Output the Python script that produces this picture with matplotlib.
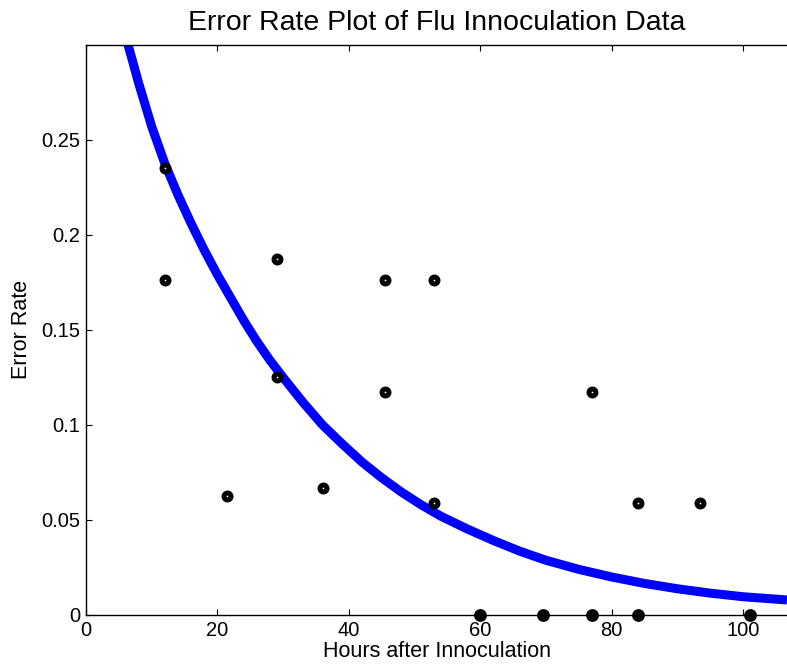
import numpy as np
import matplotlib.pyplot as plt

plt.rcParams['font.family'] = ['Liberation Sans', 'DejaVu Sans']

# observed error rates
hours = [12, 12, 21.5, 29, 29, 36, 45.5, 45.5, 53, 53,
         60, 69.5, 77, 77, 84, 84, 93.5, 101]
rates = [0.2353, 0.1765, 0.0625, 0.1875, 0.125, 0.0667, 0.1765, 0.1176, 0.1765, 0.0588,
         0, 0, 0, 0.1176, 0, 0.0588, 0.0588, 0]

# fitted curve
fit_hours = [6.4, 8, 10, 12, 14, 16, 18, 20, 22, 24, 26, 28, 30, 33, 36, 39, 42, 45, 48, 51,
             54, 58, 62, 66, 70, 75, 80, 85, 90, 95, 100, 106.7]
fit_rates = [0.300, 0.280, 0.257, 0.2375, 0.221, 0.206, 0.192, 0.179, 0.167, 0.155, 0.144,
             0.134, 0.125, 0.112, 0.100, 0.090, 0.0805, 0.0722, 0.0647, 0.058, 0.052, 0.0453,
             0.0392, 0.0336, 0.0288, 0.0240, 0.0200, 0.0166, 0.0138, 0.0115, 0.0096, 0.0079]

xticks = [0, 20, 40, 60, 80, 100]
yticks = [0, 0.05, 0.1, 0.15, 0.2, 0.25]


def main():
    fig = plt.figure(figsize=(7.87, 6.67), dpi=100)
    ax = fig.add_axes([0.1093, 0.078, 0.8907, 0.8547])

    ax.plot(fit_hours, fit_rates, color='#0000ff', lw=6.5, solid_capstyle='butt',
            solid_joinstyle='round', zorder=2)

    h = np.array(hours)
    r = np.array(rates)
    zero = r == 0
    ax.plot(h[~zero], r[~zero], 'o', ms=5.0, mew=3.6, mec='black', mfc='white',
            ls='none', zorder=3)
    ax.plot(h[zero], r[zero], 'o', ms=6.0, mew=3.2, mec='black', mfc='black',
            ls='none', zorder=4, clip_on=False)

    ax.set_xlim(0, 106.7)
    ax.set_ylim(0, 0.3)
    ax.set_xticks(xticks)
    ax.set_xticklabels([str(t) for t in xticks])
    ax.set_yticks(yticks)
    ax.set_yticklabels(['0', '0.05', '0.1', '0.15', '0.2', '0.25'])
    ax.tick_params(direction='in', length=4, width=0.8, labelsize=14.5,
                   top=True, right=False, pad=4)
    ax.spines['right'].set_visible(False)
    for s in ['left', 'top', 'bottom']:
        ax.spines[s].set_linewidth(1.0)

    ax.set_xlabel('Hours after Innoculation', fontsize=15.5, labelpad=1)
    ax.set_ylabel('Error Rate', fontsize=15.5, labelpad=7)
    ax.set_title('Error Rate Plot of Flu Innoculation Data', fontsize=20.5, pad=11)

    fig.savefig('out.png', dpi=100)


if __name__ == '__main__':
    main()
